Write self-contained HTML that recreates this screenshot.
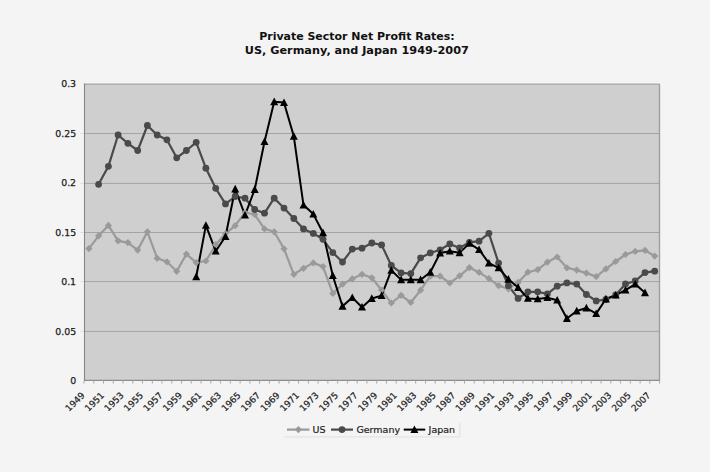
<!DOCTYPE html>
<html><head><meta charset="utf-8"><style>
html,body{margin:0;padding:0;background:#f4f4f4;}
svg{display:block;}
.ax{font-family:"DejaVu Sans","Liberation Sans",sans-serif;font-size:9px;fill:#222;stroke:#222;stroke-width:0.2px;}
.tt{font-family:"DejaVu Sans","Liberation Sans",sans-serif;font-size:10.3px;font-weight:bold;fill:#111;}
.ay{font-family:"DejaVu Sans","Liberation Sans",sans-serif;font-size:9.4px;fill:#1a1a1a;stroke:#1a1a1a;stroke-width:0.25px;}
.lg{font-family:"DejaVu Sans","Liberation Sans",sans-serif;font-size:9.5px;fill:#222;stroke:#222;stroke-width:0.2px;}
</style></head><body>
<svg width="710" height="472" viewBox="0 0 710 472">
<rect x="0" y="0" width="710" height="472" fill="#f4f4f4"/>
<rect x="84.0" y="84.0" width="575.6" height="296.6" fill="#cfcfcf"/>
<line x1="84.0" y1="133.5" x2="659.6" y2="133.5" stroke="#a4a4a4" stroke-width="1"/>
<line x1="84.0" y1="183.4" x2="659.6" y2="183.4" stroke="#a4a4a4" stroke-width="1"/>
<line x1="84.0" y1="232.5" x2="659.6" y2="232.5" stroke="#a4a4a4" stroke-width="1"/>
<line x1="84.0" y1="281.6" x2="659.6" y2="281.6" stroke="#a4a4a4" stroke-width="1"/>
<line x1="84.0" y1="331.4" x2="659.6" y2="331.4" stroke="#a4a4a4" stroke-width="1"/>
<line x1="84.0" y1="84.1" x2="659.6" y2="84.1" stroke="#a6a6a6" stroke-width="1.4"/>
<line x1="659.5" y1="84.0" x2="659.5" y2="380.6" stroke="#9c9c9c" stroke-width="1.3"/>
<line x1="84.5" y1="83.5" x2="84.5" y2="380.6" stroke="#858585" stroke-width="1.1"/>
<line x1="80.5" y1="133.5" x2="84" y2="133.5" stroke="#dadada" stroke-width="1"/>
<line x1="80.5" y1="183.4" x2="84" y2="183.4" stroke="#dadada" stroke-width="1"/>
<line x1="80.5" y1="232.5" x2="84" y2="232.5" stroke="#dadada" stroke-width="1"/>
<line x1="80.5" y1="281.6" x2="84" y2="281.6" stroke="#dadada" stroke-width="1"/>
<line x1="80.5" y1="331.4" x2="84" y2="331.4" stroke="#dadada" stroke-width="1"/>
<line x1="84.0" y1="380.4" x2="659.6" y2="380.4" stroke="#8c8c8c" stroke-width="1.2"/>
<line x1="84.0" y1="380.6" x2="84.0" y2="383.6" stroke="#aaa" stroke-width="1"/>
<line x1="93.8" y1="380.6" x2="93.8" y2="383.6" stroke="#aaa" stroke-width="1"/>
<line x1="103.5" y1="380.6" x2="103.5" y2="383.6" stroke="#aaa" stroke-width="1"/>
<line x1="113.3" y1="380.6" x2="113.3" y2="383.6" stroke="#aaa" stroke-width="1"/>
<line x1="123.0" y1="380.6" x2="123.0" y2="383.6" stroke="#aaa" stroke-width="1"/>
<line x1="132.8" y1="380.6" x2="132.8" y2="383.6" stroke="#aaa" stroke-width="1"/>
<line x1="142.5" y1="380.6" x2="142.5" y2="383.6" stroke="#aaa" stroke-width="1"/>
<line x1="152.3" y1="380.6" x2="152.3" y2="383.6" stroke="#aaa" stroke-width="1"/>
<line x1="162.0" y1="380.6" x2="162.0" y2="383.6" stroke="#aaa" stroke-width="1"/>
<line x1="171.8" y1="380.6" x2="171.8" y2="383.6" stroke="#aaa" stroke-width="1"/>
<line x1="181.6" y1="380.6" x2="181.6" y2="383.6" stroke="#aaa" stroke-width="1"/>
<line x1="191.3" y1="380.6" x2="191.3" y2="383.6" stroke="#aaa" stroke-width="1"/>
<line x1="201.1" y1="380.6" x2="201.1" y2="383.6" stroke="#aaa" stroke-width="1"/>
<line x1="210.8" y1="380.6" x2="210.8" y2="383.6" stroke="#aaa" stroke-width="1"/>
<line x1="220.6" y1="380.6" x2="220.6" y2="383.6" stroke="#aaa" stroke-width="1"/>
<line x1="230.3" y1="380.6" x2="230.3" y2="383.6" stroke="#aaa" stroke-width="1"/>
<line x1="240.1" y1="380.6" x2="240.1" y2="383.6" stroke="#aaa" stroke-width="1"/>
<line x1="249.9" y1="380.6" x2="249.9" y2="383.6" stroke="#aaa" stroke-width="1"/>
<line x1="259.6" y1="380.6" x2="259.6" y2="383.6" stroke="#aaa" stroke-width="1"/>
<line x1="269.4" y1="380.6" x2="269.4" y2="383.6" stroke="#aaa" stroke-width="1"/>
<line x1="279.1" y1="380.6" x2="279.1" y2="383.6" stroke="#aaa" stroke-width="1"/>
<line x1="288.9" y1="380.6" x2="288.9" y2="383.6" stroke="#aaa" stroke-width="1"/>
<line x1="298.6" y1="380.6" x2="298.6" y2="383.6" stroke="#aaa" stroke-width="1"/>
<line x1="308.4" y1="380.6" x2="308.4" y2="383.6" stroke="#aaa" stroke-width="1"/>
<line x1="318.1" y1="380.6" x2="318.1" y2="383.6" stroke="#aaa" stroke-width="1"/>
<line x1="327.9" y1="380.6" x2="327.9" y2="383.6" stroke="#aaa" stroke-width="1"/>
<line x1="337.7" y1="380.6" x2="337.7" y2="383.6" stroke="#aaa" stroke-width="1"/>
<line x1="347.4" y1="380.6" x2="347.4" y2="383.6" stroke="#aaa" stroke-width="1"/>
<line x1="357.2" y1="380.6" x2="357.2" y2="383.6" stroke="#aaa" stroke-width="1"/>
<line x1="366.9" y1="380.6" x2="366.9" y2="383.6" stroke="#aaa" stroke-width="1"/>
<line x1="376.7" y1="380.6" x2="376.7" y2="383.6" stroke="#aaa" stroke-width="1"/>
<line x1="386.4" y1="380.6" x2="386.4" y2="383.6" stroke="#aaa" stroke-width="1"/>
<line x1="396.2" y1="380.6" x2="396.2" y2="383.6" stroke="#aaa" stroke-width="1"/>
<line x1="405.9" y1="380.6" x2="405.9" y2="383.6" stroke="#aaa" stroke-width="1"/>
<line x1="415.7" y1="380.6" x2="415.7" y2="383.6" stroke="#aaa" stroke-width="1"/>
<line x1="425.5" y1="380.6" x2="425.5" y2="383.6" stroke="#aaa" stroke-width="1"/>
<line x1="435.2" y1="380.6" x2="435.2" y2="383.6" stroke="#aaa" stroke-width="1"/>
<line x1="445.0" y1="380.6" x2="445.0" y2="383.6" stroke="#aaa" stroke-width="1"/>
<line x1="454.7" y1="380.6" x2="454.7" y2="383.6" stroke="#aaa" stroke-width="1"/>
<line x1="464.5" y1="380.6" x2="464.5" y2="383.6" stroke="#aaa" stroke-width="1"/>
<line x1="474.2" y1="380.6" x2="474.2" y2="383.6" stroke="#aaa" stroke-width="1"/>
<line x1="484.0" y1="380.6" x2="484.0" y2="383.6" stroke="#aaa" stroke-width="1"/>
<line x1="493.7" y1="380.6" x2="493.7" y2="383.6" stroke="#aaa" stroke-width="1"/>
<line x1="503.5" y1="380.6" x2="503.5" y2="383.6" stroke="#aaa" stroke-width="1"/>
<line x1="513.3" y1="380.6" x2="513.3" y2="383.6" stroke="#aaa" stroke-width="1"/>
<line x1="523.0" y1="380.6" x2="523.0" y2="383.6" stroke="#aaa" stroke-width="1"/>
<line x1="532.8" y1="380.6" x2="532.8" y2="383.6" stroke="#aaa" stroke-width="1"/>
<line x1="542.5" y1="380.6" x2="542.5" y2="383.6" stroke="#aaa" stroke-width="1"/>
<line x1="552.3" y1="380.6" x2="552.3" y2="383.6" stroke="#aaa" stroke-width="1"/>
<line x1="562.0" y1="380.6" x2="562.0" y2="383.6" stroke="#aaa" stroke-width="1"/>
<line x1="571.8" y1="380.6" x2="571.8" y2="383.6" stroke="#aaa" stroke-width="1"/>
<line x1="581.6" y1="380.6" x2="581.6" y2="383.6" stroke="#aaa" stroke-width="1"/>
<line x1="591.3" y1="380.6" x2="591.3" y2="383.6" stroke="#aaa" stroke-width="1"/>
<line x1="601.1" y1="380.6" x2="601.1" y2="383.6" stroke="#aaa" stroke-width="1"/>
<line x1="610.8" y1="380.6" x2="610.8" y2="383.6" stroke="#aaa" stroke-width="1"/>
<line x1="620.6" y1="380.6" x2="620.6" y2="383.6" stroke="#aaa" stroke-width="1"/>
<line x1="630.3" y1="380.6" x2="630.3" y2="383.6" stroke="#aaa" stroke-width="1"/>
<line x1="640.1" y1="380.6" x2="640.1" y2="383.6" stroke="#aaa" stroke-width="1"/>
<line x1="649.8" y1="380.6" x2="649.8" y2="383.6" stroke="#aaa" stroke-width="1"/>
<line x1="659.6" y1="380.6" x2="659.6" y2="383.6" stroke="#aaa" stroke-width="1"/>
<path d="M88.9,248.6 L98.6,235.8 L108.4,225.4 L118.1,240.8 L127.9,242.6 L137.7,250.1 L147.4,231.8 L157.2,258.3 L166.9,261.8 L176.7,271.3 L186.4,254.1 L196.2,262.6 L205.9,261.0 L215.7,244.7 L225.5,233.6 L235.2,225.7 L245.0,212.5 L254.7,214.5 L264.5,228.9 L274.2,231.8 L284.0,248.8 L293.8,274.3 L303.5,268.3 L313.3,262.9 L323.0,266.6 L332.8,293.4 L342.5,284.2 L352.3,278.8 L362.0,274.3 L371.8,277.8 L381.6,290.1 L391.3,303.0 L401.1,295.3 L410.8,302.5 L420.6,290.2 L430.3,276.2 L440.1,276.2 L449.8,283.0 L459.6,275.8 L469.4,267.6 L479.1,272.4 L488.9,278.6 L498.6,285.7 L508.4,288.8 L518.1,282.4 L527.9,272.2 L537.7,269.7 L547.4,262.1 L557.2,257.0 L566.9,267.8 L576.7,270.1 L586.4,273.1 L596.2,276.6 L605.9,268.9 L615.7,261.5 L625.5,254.5 L635.2,251.4 L645.0,250.3 L654.7,256.1" fill="none" stroke="#9a9a9a" stroke-width="2.2" stroke-linejoin="round"/>
<path d="M98.6,184.3 L108.4,166.3 L118.1,135.0 L127.9,143.3 L137.7,150.5 L147.4,125.5 L157.2,135.0 L166.9,139.8 L176.7,157.8 L186.4,150.5 L196.2,142.3 L205.9,168.2 L215.7,188.3 L225.5,203.9 L235.2,196.5 L245.0,198.2 L254.7,209.5 L264.5,213.2 L274.2,198.2 L284.0,208.1 L293.8,218.5 L303.5,228.9 L313.3,233.4 L323.0,239.3 L332.8,252.6 L342.5,262.0 L352.3,249.1 L362.0,248.2 L371.8,243.0 L381.6,244.9 L391.3,265.5 L401.1,272.8 L410.8,273.6 L420.6,257.8 L430.3,253.0 L440.1,249.8 L449.8,244.0 L459.6,247.9 L469.4,242.3 L479.1,241.2 L488.9,233.3 L498.6,263.1 L508.4,285.7 L518.1,298.4 L527.9,291.8 L537.7,291.8 L547.4,293.8 L557.2,286.2 L566.9,282.9 L576.7,284.1 L586.4,294.5 L596.2,300.9 L605.9,299.5 L615.7,295.0 L625.5,284.0 L635.2,281.0 L645.0,272.6 L654.7,271.2" fill="none" stroke="#4a4a4a" stroke-width="2.2" stroke-linejoin="round"/>
<path d="M196.2,276.8 L205.9,225.4 L215.7,251.1 L225.5,236.5 L235.2,189.0 L245.0,215.2 L254.7,189.5 L264.5,141.7 L274.2,101.8 L284.0,102.6 L293.8,136.3 L303.5,205.1 L313.3,214.1 L323.0,232.8 L332.8,275.7 L342.5,306.3 L352.3,297.6 L362.0,307.2 L371.8,298.5 L381.6,295.6 L391.3,270.4 L401.1,279.8 L410.8,279.8 L420.6,279.8 L430.3,272.3 L440.1,253.1 L449.8,251.2 L459.6,252.8 L469.4,243.4 L479.1,249.6 L488.9,263.2 L498.6,267.9 L508.4,279.3 L518.1,287.5 L527.9,298.4 L537.7,298.9 L547.4,297.7 L557.2,300.2 L566.9,318.5 L576.7,311.0 L586.4,308.0 L596.2,313.6 L605.9,299.0 L615.7,295.1 L625.5,290.2 L635.2,284.1 L645.0,292.8" fill="none" stroke="#000" stroke-width="2.0" stroke-linejoin="round"/>
<path d="M88.9,245.0 L92.5,248.6 L88.9,252.2 L85.3,248.6 Z" fill="#9a9a9a"/>
<path d="M98.6,232.2 L102.2,235.8 L98.6,239.4 L95.0,235.8 Z" fill="#9a9a9a"/>
<path d="M108.4,221.8 L112.0,225.4 L108.4,229.0 L104.8,225.4 Z" fill="#9a9a9a"/>
<path d="M118.1,237.2 L121.7,240.8 L118.1,244.4 L114.5,240.8 Z" fill="#9a9a9a"/>
<path d="M127.9,239.0 L131.5,242.6 L127.9,246.2 L124.3,242.6 Z" fill="#9a9a9a"/>
<path d="M137.7,246.5 L141.3,250.1 L137.7,253.7 L134.1,250.1 Z" fill="#9a9a9a"/>
<path d="M147.4,228.2 L151.0,231.8 L147.4,235.4 L143.8,231.8 Z" fill="#9a9a9a"/>
<path d="M157.2,254.7 L160.8,258.3 L157.2,261.9 L153.6,258.3 Z" fill="#9a9a9a"/>
<path d="M166.9,258.2 L170.5,261.8 L166.9,265.4 L163.3,261.8 Z" fill="#9a9a9a"/>
<path d="M176.7,267.7 L180.3,271.3 L176.7,274.9 L173.1,271.3 Z" fill="#9a9a9a"/>
<path d="M186.4,250.5 L190.0,254.1 L186.4,257.7 L182.8,254.1 Z" fill="#9a9a9a"/>
<path d="M196.2,259.0 L199.8,262.6 L196.2,266.2 L192.6,262.6 Z" fill="#9a9a9a"/>
<path d="M205.9,257.4 L209.5,261.0 L205.9,264.6 L202.3,261.0 Z" fill="#9a9a9a"/>
<path d="M215.7,241.1 L219.3,244.7 L215.7,248.3 L212.1,244.7 Z" fill="#9a9a9a"/>
<path d="M225.5,230.0 L229.1,233.6 L225.5,237.2 L221.9,233.6 Z" fill="#9a9a9a"/>
<path d="M235.2,222.1 L238.8,225.7 L235.2,229.3 L231.6,225.7 Z" fill="#9a9a9a"/>
<path d="M245.0,208.9 L248.6,212.5 L245.0,216.1 L241.4,212.5 Z" fill="#9a9a9a"/>
<path d="M254.7,210.9 L258.3,214.5 L254.7,218.1 L251.1,214.5 Z" fill="#9a9a9a"/>
<path d="M264.5,225.3 L268.1,228.9 L264.5,232.5 L260.9,228.9 Z" fill="#9a9a9a"/>
<path d="M274.2,228.2 L277.8,231.8 L274.2,235.4 L270.6,231.8 Z" fill="#9a9a9a"/>
<path d="M284.0,245.2 L287.6,248.8 L284.0,252.4 L280.4,248.8 Z" fill="#9a9a9a"/>
<path d="M293.8,270.7 L297.4,274.3 L293.8,277.9 L290.2,274.3 Z" fill="#9a9a9a"/>
<path d="M303.5,264.7 L307.1,268.3 L303.5,271.9 L299.9,268.3 Z" fill="#9a9a9a"/>
<path d="M313.3,259.3 L316.9,262.9 L313.3,266.5 L309.7,262.9 Z" fill="#9a9a9a"/>
<path d="M323.0,263.0 L326.6,266.6 L323.0,270.2 L319.4,266.6 Z" fill="#9a9a9a"/>
<path d="M332.8,289.8 L336.4,293.4 L332.8,297.0 L329.2,293.4 Z" fill="#9a9a9a"/>
<path d="M342.5,280.6 L346.1,284.2 L342.5,287.8 L338.9,284.2 Z" fill="#9a9a9a"/>
<path d="M352.3,275.2 L355.9,278.8 L352.3,282.4 L348.7,278.8 Z" fill="#9a9a9a"/>
<path d="M362.0,270.7 L365.6,274.3 L362.0,277.9 L358.4,274.3 Z" fill="#9a9a9a"/>
<path d="M371.8,274.2 L375.4,277.8 L371.8,281.4 L368.2,277.8 Z" fill="#9a9a9a"/>
<path d="M381.6,286.5 L385.2,290.1 L381.6,293.7 L378.0,290.1 Z" fill="#9a9a9a"/>
<path d="M391.3,299.4 L394.9,303.0 L391.3,306.6 L387.7,303.0 Z" fill="#9a9a9a"/>
<path d="M401.1,291.7 L404.7,295.3 L401.1,298.9 L397.5,295.3 Z" fill="#9a9a9a"/>
<path d="M410.8,298.9 L414.4,302.5 L410.8,306.1 L407.2,302.5 Z" fill="#9a9a9a"/>
<path d="M420.6,286.6 L424.2,290.2 L420.6,293.8 L417.0,290.2 Z" fill="#9a9a9a"/>
<path d="M430.3,272.6 L433.9,276.2 L430.3,279.8 L426.7,276.2 Z" fill="#9a9a9a"/>
<path d="M440.1,272.6 L443.7,276.2 L440.1,279.8 L436.5,276.2 Z" fill="#9a9a9a"/>
<path d="M449.8,279.4 L453.4,283.0 L449.8,286.6 L446.2,283.0 Z" fill="#9a9a9a"/>
<path d="M459.6,272.2 L463.2,275.8 L459.6,279.4 L456.0,275.8 Z" fill="#9a9a9a"/>
<path d="M469.4,264.0 L473.0,267.6 L469.4,271.2 L465.8,267.6 Z" fill="#9a9a9a"/>
<path d="M479.1,268.8 L482.7,272.4 L479.1,276.0 L475.5,272.4 Z" fill="#9a9a9a"/>
<path d="M488.9,275.0 L492.5,278.6 L488.9,282.2 L485.3,278.6 Z" fill="#9a9a9a"/>
<path d="M498.6,282.1 L502.2,285.7 L498.6,289.3 L495.0,285.7 Z" fill="#9a9a9a"/>
<path d="M508.4,285.2 L512.0,288.8 L508.4,292.4 L504.8,288.8 Z" fill="#9a9a9a"/>
<path d="M518.1,278.8 L521.7,282.4 L518.1,286.0 L514.5,282.4 Z" fill="#9a9a9a"/>
<path d="M527.9,268.6 L531.5,272.2 L527.9,275.8 L524.3,272.2 Z" fill="#9a9a9a"/>
<path d="M537.7,266.1 L541.3,269.7 L537.7,273.3 L534.1,269.7 Z" fill="#9a9a9a"/>
<path d="M547.4,258.5 L551.0,262.1 L547.4,265.7 L543.8,262.1 Z" fill="#9a9a9a"/>
<path d="M557.2,253.4 L560.8,257.0 L557.2,260.6 L553.6,257.0 Z" fill="#9a9a9a"/>
<path d="M566.9,264.2 L570.5,267.8 L566.9,271.4 L563.3,267.8 Z" fill="#9a9a9a"/>
<path d="M576.7,266.5 L580.3,270.1 L576.7,273.7 L573.1,270.1 Z" fill="#9a9a9a"/>
<path d="M586.4,269.5 L590.0,273.1 L586.4,276.7 L582.8,273.1 Z" fill="#9a9a9a"/>
<path d="M596.2,273.0 L599.8,276.6 L596.2,280.2 L592.6,276.6 Z" fill="#9a9a9a"/>
<path d="M605.9,265.3 L609.5,268.9 L605.9,272.5 L602.3,268.9 Z" fill="#9a9a9a"/>
<path d="M615.7,257.9 L619.3,261.5 L615.7,265.1 L612.1,261.5 Z" fill="#9a9a9a"/>
<path d="M625.5,250.9 L629.1,254.5 L625.5,258.1 L621.9,254.5 Z" fill="#9a9a9a"/>
<path d="M635.2,247.8 L638.8,251.4 L635.2,255.0 L631.6,251.4 Z" fill="#9a9a9a"/>
<path d="M645.0,246.7 L648.6,250.3 L645.0,253.9 L641.4,250.3 Z" fill="#9a9a9a"/>
<path d="M654.7,252.5 L658.3,256.1 L654.7,259.7 L651.1,256.1 Z" fill="#9a9a9a"/>
<circle cx="98.6" cy="184.3" r="3.4" fill="#4a4a4a"/>
<circle cx="108.4" cy="166.3" r="3.4" fill="#4a4a4a"/>
<circle cx="118.1" cy="135.0" r="3.4" fill="#4a4a4a"/>
<circle cx="127.9" cy="143.3" r="3.4" fill="#4a4a4a"/>
<circle cx="137.7" cy="150.5" r="3.4" fill="#4a4a4a"/>
<circle cx="147.4" cy="125.5" r="3.4" fill="#4a4a4a"/>
<circle cx="157.2" cy="135.0" r="3.4" fill="#4a4a4a"/>
<circle cx="166.9" cy="139.8" r="3.4" fill="#4a4a4a"/>
<circle cx="176.7" cy="157.8" r="3.4" fill="#4a4a4a"/>
<circle cx="186.4" cy="150.5" r="3.4" fill="#4a4a4a"/>
<circle cx="196.2" cy="142.3" r="3.4" fill="#4a4a4a"/>
<circle cx="205.9" cy="168.2" r="3.4" fill="#4a4a4a"/>
<circle cx="215.7" cy="188.3" r="3.4" fill="#4a4a4a"/>
<circle cx="225.5" cy="203.9" r="3.4" fill="#4a4a4a"/>
<circle cx="235.2" cy="196.5" r="3.4" fill="#4a4a4a"/>
<circle cx="245.0" cy="198.2" r="3.4" fill="#4a4a4a"/>
<circle cx="254.7" cy="209.5" r="3.4" fill="#4a4a4a"/>
<circle cx="264.5" cy="213.2" r="3.4" fill="#4a4a4a"/>
<circle cx="274.2" cy="198.2" r="3.4" fill="#4a4a4a"/>
<circle cx="284.0" cy="208.1" r="3.4" fill="#4a4a4a"/>
<circle cx="293.8" cy="218.5" r="3.4" fill="#4a4a4a"/>
<circle cx="303.5" cy="228.9" r="3.4" fill="#4a4a4a"/>
<circle cx="313.3" cy="233.4" r="3.4" fill="#4a4a4a"/>
<circle cx="323.0" cy="239.3" r="3.4" fill="#4a4a4a"/>
<circle cx="332.8" cy="252.6" r="3.4" fill="#4a4a4a"/>
<circle cx="342.5" cy="262.0" r="3.4" fill="#4a4a4a"/>
<circle cx="352.3" cy="249.1" r="3.4" fill="#4a4a4a"/>
<circle cx="362.0" cy="248.2" r="3.4" fill="#4a4a4a"/>
<circle cx="371.8" cy="243.0" r="3.4" fill="#4a4a4a"/>
<circle cx="381.6" cy="244.9" r="3.4" fill="#4a4a4a"/>
<circle cx="391.3" cy="265.5" r="3.4" fill="#4a4a4a"/>
<circle cx="401.1" cy="272.8" r="3.4" fill="#4a4a4a"/>
<circle cx="410.8" cy="273.6" r="3.4" fill="#4a4a4a"/>
<circle cx="420.6" cy="257.8" r="3.4" fill="#4a4a4a"/>
<circle cx="430.3" cy="253.0" r="3.4" fill="#4a4a4a"/>
<circle cx="440.1" cy="249.8" r="3.4" fill="#4a4a4a"/>
<circle cx="449.8" cy="244.0" r="3.4" fill="#4a4a4a"/>
<circle cx="459.6" cy="247.9" r="3.4" fill="#4a4a4a"/>
<circle cx="469.4" cy="242.3" r="3.4" fill="#4a4a4a"/>
<circle cx="479.1" cy="241.2" r="3.4" fill="#4a4a4a"/>
<circle cx="488.9" cy="233.3" r="3.4" fill="#4a4a4a"/>
<circle cx="498.6" cy="263.1" r="3.4" fill="#4a4a4a"/>
<circle cx="508.4" cy="285.7" r="3.4" fill="#4a4a4a"/>
<circle cx="518.1" cy="298.4" r="3.4" fill="#4a4a4a"/>
<circle cx="527.9" cy="291.8" r="3.4" fill="#4a4a4a"/>
<circle cx="537.7" cy="291.8" r="3.4" fill="#4a4a4a"/>
<circle cx="547.4" cy="293.8" r="3.4" fill="#4a4a4a"/>
<circle cx="557.2" cy="286.2" r="3.4" fill="#4a4a4a"/>
<circle cx="566.9" cy="282.9" r="3.4" fill="#4a4a4a"/>
<circle cx="576.7" cy="284.1" r="3.4" fill="#4a4a4a"/>
<circle cx="586.4" cy="294.5" r="3.4" fill="#4a4a4a"/>
<circle cx="596.2" cy="300.9" r="3.4" fill="#4a4a4a"/>
<circle cx="605.9" cy="299.5" r="3.4" fill="#4a4a4a"/>
<circle cx="615.7" cy="295.0" r="3.4" fill="#4a4a4a"/>
<circle cx="625.5" cy="284.0" r="3.4" fill="#4a4a4a"/>
<circle cx="635.2" cy="281.0" r="3.4" fill="#4a4a4a"/>
<circle cx="645.0" cy="272.6" r="3.4" fill="#4a4a4a"/>
<circle cx="654.7" cy="271.2" r="3.4" fill="#4a4a4a"/>
<path d="M196.2,272.6 L200.2,280.2 L192.2,280.2 Z" fill="#000"/>
<path d="M205.9,221.2 L209.9,228.8 L201.9,228.8 Z" fill="#000"/>
<path d="M215.7,246.9 L219.7,254.5 L211.7,254.5 Z" fill="#000"/>
<path d="M225.5,232.3 L229.5,239.9 L221.5,239.9 Z" fill="#000"/>
<path d="M235.2,184.8 L239.2,192.4 L231.2,192.4 Z" fill="#000"/>
<path d="M245.0,211.0 L249.0,218.6 L241.0,218.6 Z" fill="#000"/>
<path d="M254.7,185.3 L258.7,192.9 L250.7,192.9 Z" fill="#000"/>
<path d="M264.5,137.5 L268.5,145.1 L260.5,145.1 Z" fill="#000"/>
<path d="M274.2,97.6 L278.2,105.2 L270.2,105.2 Z" fill="#000"/>
<path d="M284.0,98.4 L288.0,106.0 L280.0,106.0 Z" fill="#000"/>
<path d="M293.8,132.1 L297.8,139.7 L289.8,139.7 Z" fill="#000"/>
<path d="M303.5,200.9 L307.5,208.5 L299.5,208.5 Z" fill="#000"/>
<path d="M313.3,209.9 L317.3,217.5 L309.3,217.5 Z" fill="#000"/>
<path d="M323.0,228.6 L327.0,236.2 L319.0,236.2 Z" fill="#000"/>
<path d="M332.8,271.5 L336.8,279.1 L328.8,279.1 Z" fill="#000"/>
<path d="M342.5,302.1 L346.5,309.7 L338.5,309.7 Z" fill="#000"/>
<path d="M352.3,293.4 L356.3,301.0 L348.3,301.0 Z" fill="#000"/>
<path d="M362.0,303.0 L366.0,310.6 L358.0,310.6 Z" fill="#000"/>
<path d="M371.8,294.3 L375.8,301.9 L367.8,301.9 Z" fill="#000"/>
<path d="M381.6,291.4 L385.6,299.0 L377.6,299.0 Z" fill="#000"/>
<path d="M391.3,266.2 L395.3,273.8 L387.3,273.8 Z" fill="#000"/>
<path d="M401.1,275.6 L405.1,283.2 L397.1,283.2 Z" fill="#000"/>
<path d="M410.8,275.6 L414.8,283.2 L406.8,283.2 Z" fill="#000"/>
<path d="M420.6,275.6 L424.6,283.2 L416.6,283.2 Z" fill="#000"/>
<path d="M430.3,268.1 L434.3,275.7 L426.3,275.7 Z" fill="#000"/>
<path d="M440.1,248.9 L444.1,256.5 L436.1,256.5 Z" fill="#000"/>
<path d="M449.8,247.0 L453.8,254.6 L445.8,254.6 Z" fill="#000"/>
<path d="M459.6,248.6 L463.6,256.2 L455.6,256.2 Z" fill="#000"/>
<path d="M469.4,239.2 L473.4,246.8 L465.4,246.8 Z" fill="#000"/>
<path d="M479.1,245.4 L483.1,253.0 L475.1,253.0 Z" fill="#000"/>
<path d="M488.9,259.0 L492.9,266.6 L484.9,266.6 Z" fill="#000"/>
<path d="M498.6,263.7 L502.6,271.3 L494.6,271.3 Z" fill="#000"/>
<path d="M508.4,275.1 L512.4,282.7 L504.4,282.7 Z" fill="#000"/>
<path d="M518.1,283.3 L522.1,290.9 L514.1,290.9 Z" fill="#000"/>
<path d="M527.9,294.2 L531.9,301.8 L523.9,301.8 Z" fill="#000"/>
<path d="M537.7,294.7 L541.7,302.3 L533.7,302.3 Z" fill="#000"/>
<path d="M547.4,293.5 L551.4,301.1 L543.4,301.1 Z" fill="#000"/>
<path d="M557.2,296.0 L561.2,303.6 L553.2,303.6 Z" fill="#000"/>
<path d="M566.9,314.3 L570.9,321.9 L562.9,321.9 Z" fill="#000"/>
<path d="M576.7,306.8 L580.7,314.4 L572.7,314.4 Z" fill="#000"/>
<path d="M586.4,303.8 L590.4,311.4 L582.4,311.4 Z" fill="#000"/>
<path d="M596.2,309.4 L600.2,317.0 L592.2,317.0 Z" fill="#000"/>
<path d="M605.9,294.8 L609.9,302.4 L601.9,302.4 Z" fill="#000"/>
<path d="M615.7,290.9 L619.7,298.5 L611.7,298.5 Z" fill="#000"/>
<path d="M625.5,286.0 L629.5,293.6 L621.5,293.6 Z" fill="#000"/>
<path d="M635.2,279.9 L639.2,287.5 L631.2,287.5 Z" fill="#000"/>
<path d="M645.0,288.6 L649.0,296.2 L641.0,296.2 Z" fill="#000"/>
<text x="76.1" y="384.0" text-anchor="end" class="ay">0</text>
<text x="76.1" y="334.6" text-anchor="end" class="ay">0.05</text>
<text x="76.1" y="285.1" text-anchor="end" class="ay">0.1</text>
<text x="76.1" y="235.7" text-anchor="end" class="ay">0.15</text>
<text x="76.1" y="186.3" text-anchor="end" class="ay">0.2</text>
<text x="76.1" y="136.8" text-anchor="end" class="ay">0.25</text>
<text x="76.1" y="87.4" text-anchor="end" class="ay">0.3</text>
<text x="85.3" y="395.9" text-anchor="end" transform="rotate(-45 85.3 395.9)" class="ax">1949</text>
<text x="104.8" y="395.9" text-anchor="end" transform="rotate(-45 104.8 395.9)" class="ax">1951</text>
<text x="124.3" y="395.9" text-anchor="end" transform="rotate(-45 124.3 395.9)" class="ax">1953</text>
<text x="143.8" y="395.9" text-anchor="end" transform="rotate(-45 143.8 395.9)" class="ax">1955</text>
<text x="163.3" y="395.9" text-anchor="end" transform="rotate(-45 163.3 395.9)" class="ax">1957</text>
<text x="182.8" y="395.9" text-anchor="end" transform="rotate(-45 182.8 395.9)" class="ax">1959</text>
<text x="202.3" y="395.9" text-anchor="end" transform="rotate(-45 202.3 395.9)" class="ax">1961</text>
<text x="221.9" y="395.9" text-anchor="end" transform="rotate(-45 221.9 395.9)" class="ax">1963</text>
<text x="241.4" y="395.9" text-anchor="end" transform="rotate(-45 241.4 395.9)" class="ax">1965</text>
<text x="260.9" y="395.9" text-anchor="end" transform="rotate(-45 260.9 395.9)" class="ax">1967</text>
<text x="280.4" y="395.9" text-anchor="end" transform="rotate(-45 280.4 395.9)" class="ax">1969</text>
<text x="299.9" y="395.9" text-anchor="end" transform="rotate(-45 299.9 395.9)" class="ax">1971</text>
<text x="319.4" y="395.9" text-anchor="end" transform="rotate(-45 319.4 395.9)" class="ax">1973</text>
<text x="338.9" y="395.9" text-anchor="end" transform="rotate(-45 338.9 395.9)" class="ax">1975</text>
<text x="358.4" y="395.9" text-anchor="end" transform="rotate(-45 358.4 395.9)" class="ax">1977</text>
<text x="378.0" y="395.9" text-anchor="end" transform="rotate(-45 378.0 395.9)" class="ax">1979</text>
<text x="397.5" y="395.9" text-anchor="end" transform="rotate(-45 397.5 395.9)" class="ax">1981</text>
<text x="417.0" y="395.9" text-anchor="end" transform="rotate(-45 417.0 395.9)" class="ax">1983</text>
<text x="436.5" y="395.9" text-anchor="end" transform="rotate(-45 436.5 395.9)" class="ax">1985</text>
<text x="456.0" y="395.9" text-anchor="end" transform="rotate(-45 456.0 395.9)" class="ax">1987</text>
<text x="475.5" y="395.9" text-anchor="end" transform="rotate(-45 475.5 395.9)" class="ax">1989</text>
<text x="495.0" y="395.9" text-anchor="end" transform="rotate(-45 495.0 395.9)" class="ax">1991</text>
<text x="514.5" y="395.9" text-anchor="end" transform="rotate(-45 514.5 395.9)" class="ax">1993</text>
<text x="534.1" y="395.9" text-anchor="end" transform="rotate(-45 534.1 395.9)" class="ax">1995</text>
<text x="553.6" y="395.9" text-anchor="end" transform="rotate(-45 553.6 395.9)" class="ax">1997</text>
<text x="573.1" y="395.9" text-anchor="end" transform="rotate(-45 573.1 395.9)" class="ax">1999</text>
<text x="592.6" y="395.9" text-anchor="end" transform="rotate(-45 592.6 395.9)" class="ax">2001</text>
<text x="612.1" y="395.9" text-anchor="end" transform="rotate(-45 612.1 395.9)" class="ax">2003</text>
<text x="631.6" y="395.9" text-anchor="end" transform="rotate(-45 631.6 395.9)" class="ax">2005</text>
<text x="651.1" y="395.9" text-anchor="end" transform="rotate(-45 651.1 395.9)" class="ax">2007</text>
<text x="259.2" y="39.9" textLength="195.5" lengthAdjust="spacingAndGlyphs" class="tt">Private Sector Net Profit Rates:</text>
<text x="244.8" y="53.6" textLength="224" lengthAdjust="spacingAndGlyphs" class="tt">US, Germany, and Japan 1949-2007</text>
<path d="M284,436.8 H459.8 V422.5" fill="none" stroke="#e3e3e3" stroke-width="1.2"/>
<line x1="287" y1="429.6" x2="309.5" y2="429.6" stroke="#9a9a9a" stroke-width="2.2"/>
<path d="M298.4,426.0 L302.0,429.6 L298.4,433.2 L294.8,429.6 Z" fill="#9a9a9a"/>
<text x="312.5" y="433.1" class="lg">US</text>
<line x1="331" y1="429.6" x2="353" y2="429.6" stroke="#4a4a4a" stroke-width="2.2"/>
<circle cx="342.0" cy="429.6" r="3.4" fill="#4a4a4a"/>
<text x="356.4" y="433.1" class="lg">Germany</text>
<line x1="403.7" y1="429.6" x2="425.2" y2="429.6" stroke="#000" stroke-width="2"/>
<path d="M414.4,425.4 L418.4,433.0 L410.4,433.0 Z" fill="#000"/>
<text x="428.6" y="433.1" class="lg">Japan</text>
</svg>
</body></html>
